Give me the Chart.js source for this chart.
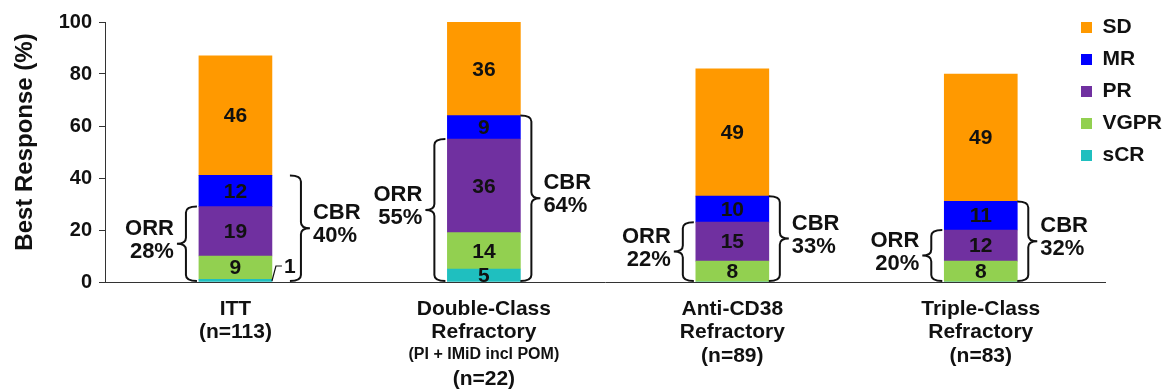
<!DOCTYPE html>
<html><head><meta charset="utf-8">
<script src="https://cdn.jsdelivr.net/npm/chart.js@4/dist/chart.umd.min.js"></script>
<style>html,body{margin:0;padding:0;background:#fff;}#wrap{width:1164px;height:392px;}</style>
</head><body><div id="wrap"><canvas id="c" width="1164" height="392"></canvas></div>
<script>
// ---- data ----
const categories = [['ITT','(n=113)'], ['Double-Class','Refractory','','(n=22)'], ['Anti-CD38','Refractory','(n=89)'], ['Triple-Class','Refractory','(n=83)']];
const subNotes = ['', '(PI + IMiD incl POM)', '', ''];
const seriesNames = ['sCR','VGPR','PR','MR','SD'];
const sCR  = [1, 5, 0, 0];
const VGPR = [9, 14, 8, 8];
const PR   = [19, 36, 15, 12];
const MR   = [12, 9, 10, 11];
const SD   = [46, 36, 49, 49];
const ORR  = [28, 55, 22, 20];
const CBR  = [40, 64, 33, 32];
const yTicks = [0, 20, 40, 60, 80, 100];

const colors = {sCR:'#1fbfbf', VGPR:'#92d050', PR:'#7030a0', MR:'#0000ff', SD:'#ff9900'};
const FONT = '"Liberation Sans", Arial, sans-serif';
const INK = '#111';

const seriesValues = {sCR, VGPR, PR, MR, SD};
const datasets = seriesNames.map(n => ({
  label: n,
  data: seriesValues[n].map((v, i) => ({x: i, y: v})),
  backgroundColor: colors[n],
  borderWidth: 0,
  barThickness: 73
}));

function brace(ctx, xv, y1, y2, dir) {
  const hook = 11, r = 6, tip = 9, ym = (y1 + y2) / 2;
  ctx.beginPath();
  ctx.moveTo(xv - dir * hook, y1);
  ctx.quadraticCurveTo(xv, y1, xv, y1 + r);
  ctx.lineTo(xv, ym - r);
  ctx.quadraticCurveTo(xv, ym, xv + dir * tip, ym);
  ctx.quadraticCurveTo(xv, ym, xv, ym + r);
  ctx.lineTo(xv, y2 - r);
  ctx.quadraticCurveTo(xv, y2, xv - dir * hook, y2);
  ctx.stroke();
  return ym;
}

const annot = {
  id: 'annot',
  afterDatasetsDraw(chart) {
    const ctx = chart.ctx, ys = chart.scales.y, xs = chart.scales.x;
    ctx.save();
    ctx.fillStyle = INK; ctx.strokeStyle = INK;
    ctx.textBaseline = 'middle';
    const y0 = ys.getPixelForValue(0);
    const outside = [];
    chart.data.datasets.forEach((ds, di) => {
      const meta = chart.getDatasetMeta(di);
      meta.data.forEach((bar, i) => {
        const v = ds.data[i].y; if (!v) return;
        const p = bar.getProps(['x', 'y', 'base', 'width'], true);
        const h = Math.abs(p.base - p.y);
        ctx.font = 'bold 21px ' + FONT;
        ctx.textAlign = 'center';
        if (h < 8) {
          const bx = p.x + p.width / 2;
          ctx.lineWidth = 1.2;
          ctx.beginPath();
          ctx.moveTo(bx, y0 - 1); ctx.lineTo(bx + 4, y0 - 16); ctx.lineTo(bx + 10, y0 - 16);
          ctx.stroke();
          ctx.fillText(String(v), bx + 18, y0 - 15);
          outside[i] = true;
        } else {
          ctx.fillText(String(v), p.x, (p.y + p.base) / 2 + 1);
        }
      });
    });
    const meta0 = chart.getDatasetMeta(0);
    meta0.data.forEach((bar, i) => {
      const p = bar.getProps(['x', 'width'], true);
      const left = p.x - p.width / 2, right = p.x + p.width / 2;
      const yO = ys.getPixelForValue(sCR[i] + VGPR[i] + PR[i]);
      const yC = ys.getPixelForValue(sCR[i] + VGPR[i] + PR[i] + MR[i]);
      ctx.lineWidth = 2;
      const xl = left - 13;
      const ymO = brace(ctx, xl, yO, y0 - 1, -1);
      const xr = right + (outside[i] ? 29 : 11);
      const ymC = brace(ctx, xr, yC, y0 - 1, 1);
      ctx.font = 'bold 22px ' + FONT;
      ctx.textAlign = 'right';
      ctx.fillText('ORR', xl - 12, ymO - 15);
      ctx.fillText(ORR[i] + '%', xl - 12, ymO + 8);
      ctx.textAlign = 'left';
      ctx.fillText('CBR', xr + 12, ymC - 15);
      ctx.fillText(CBR[i] + '%', xr + 12, ymC + 8);
    });
    ctx.font = 'bold 16px ' + FONT;
    ctx.textAlign = 'center';
    subNotes.forEach((t, i) => {
      if (t) ctx.fillText(t, xs.getPixelForValue(i), xs.top + 73);
    });
    ctx.restore();
  },
  afterLayout(chart) {
    const lg = chart.legend;
    if (lg) {
      lg.left = 1070; lg.right = 1164; lg.width = 94;
      lg.top = 6; lg.bottom = 230; lg.height = 224;
    }
  }
};

new Chart(document.getElementById('c'), {
  type: 'bar',
  data: {datasets},
  options: {
    responsive: false,
    animation: false,
    devicePixelRatio: 1,
    layout: {padding: {top: 22, right: 59, bottom: 0, left: 0}},
    plugins: {
      tooltip: {enabled: false},
      legend: {
        position: 'chartArea',
        align: 'start',
        reverse: true,
        labels: {boxWidth: 11, boxHeight: 11, padding: 11, color: INK, font: {family: FONT, size: 21, weight: 'bold'}}
      }
    },
    scales: {
      x: {
        type: 'linear',
        stacked: true,
        offset: false,
        min: -0.525, max: 3.5,
        afterBuildTicks: s => { s.ticks = categories.map((c, i) => ({value: i})); },
        afterFit: s => { s.height = 110; },
        grid: {display: true, drawOnChartArea: false, drawTicks: false},
        border: {display: true, color: '#333', width: 1},
        ticks: {
          autoSkip: false, maxRotation: 0, padding: 16, color: INK,
          font: {family: FONT, size: 21, weight: 'bold', lineHeight: 1.1},
          callback: v => categories[v] || ''
        }
      },
      y: {
        stacked: true,
        min: 0, max: 100,
        afterBuildTicks: s => { s.ticks = yTicks.map(v => ({value: v})); },
        afterFit: s => { s.width = 105; },
        grid: {drawOnChartArea: false, drawTicks: true, tickLength: 6, color: '#333'},
        border: {display: true, color: '#333', width: 1},
        ticks: {padding: 7, color: INK, font: {family: FONT, size: 20, weight: 'bold'}},
        title: {display: true, text: '\u00a0\u00a0\u00a0Best Response (%)', color: INK, padding: {top: 11, bottom: 0},
                font: {family: FONT, size: 24, weight: 'bold'}}
      }
    }
  },
  plugins: [annot]
});
</script></body></html>
